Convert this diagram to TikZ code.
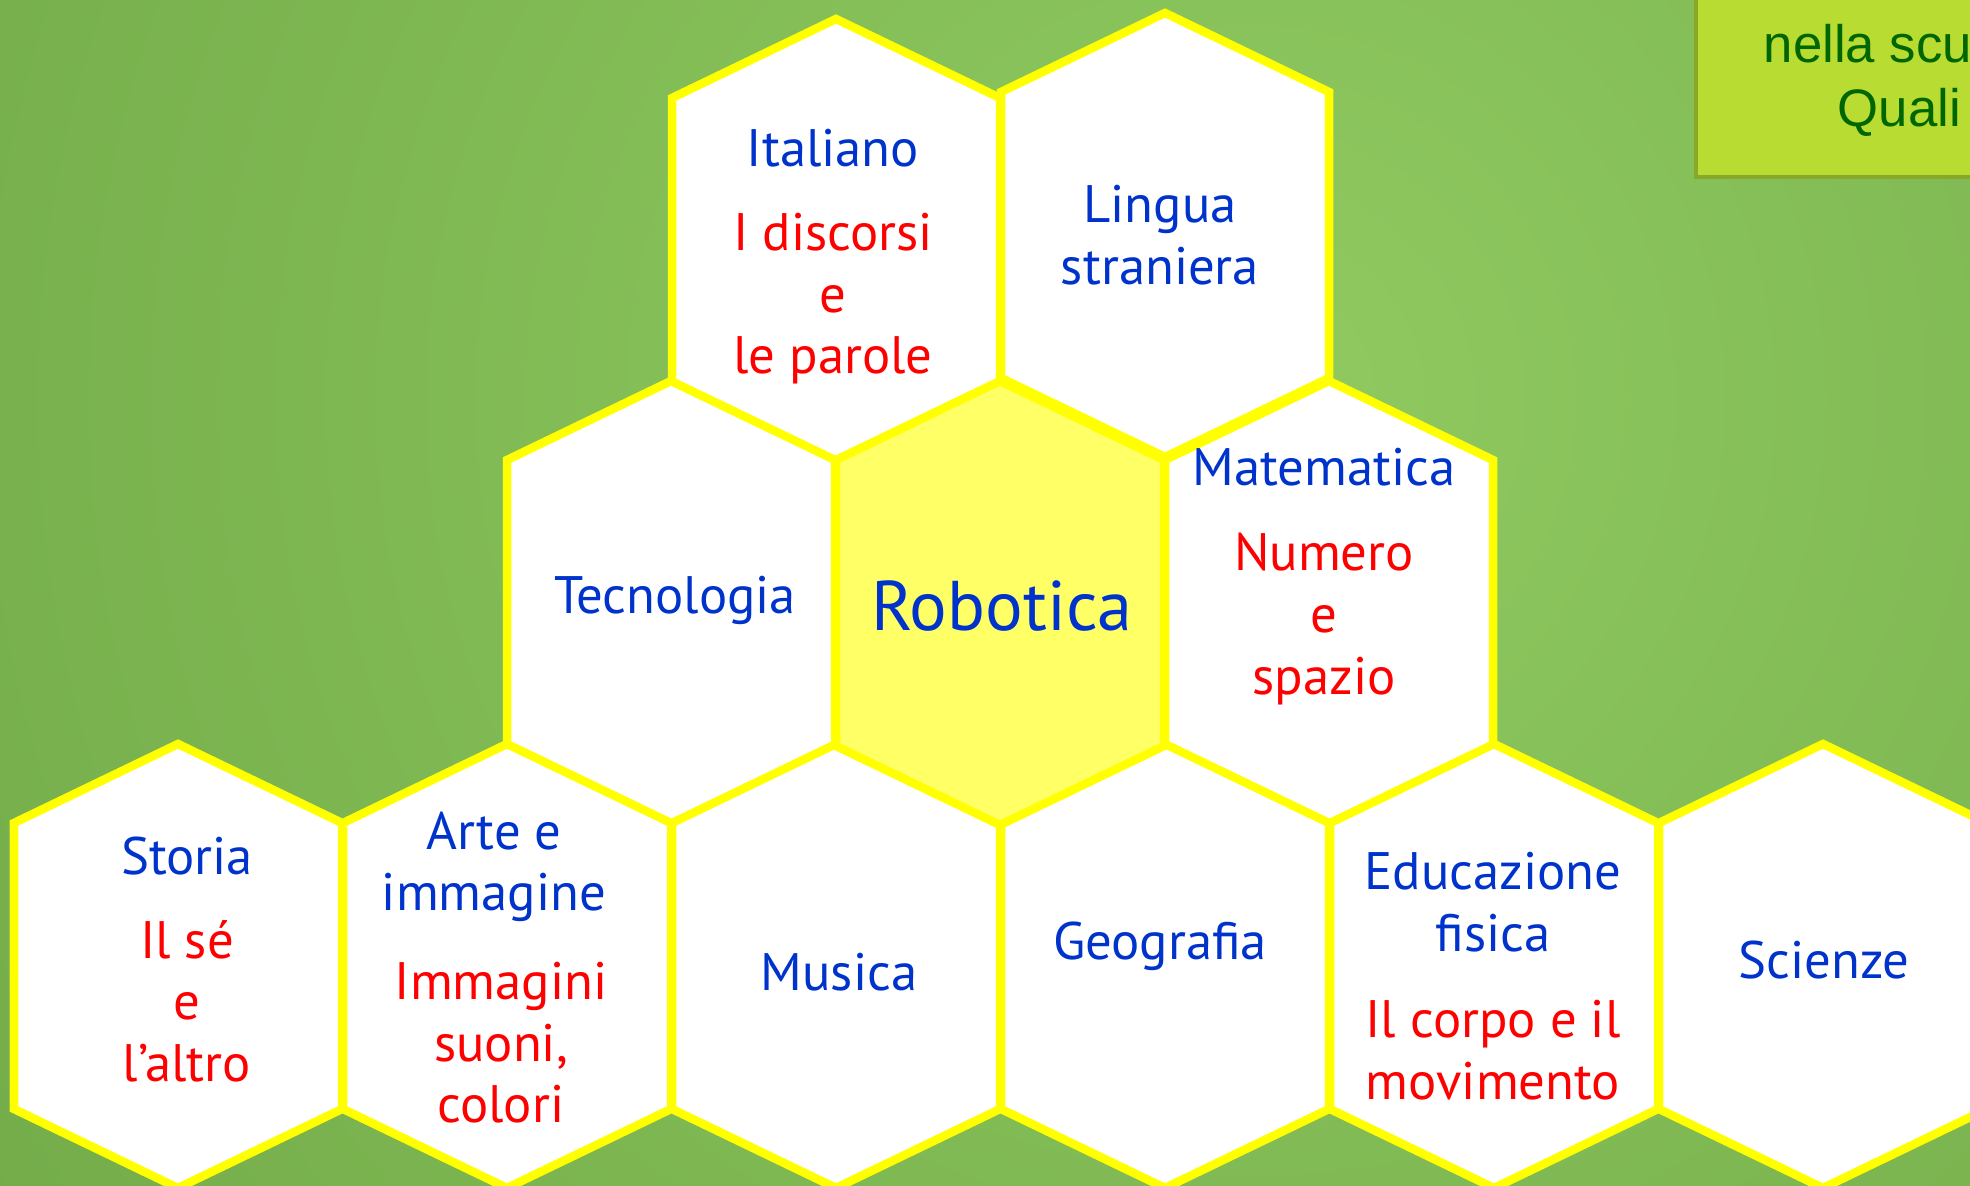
\documentclass[tikz,border=0pt]{standalone}
\usepackage{fontspec}
\setmainfont{PT Sans}
\newfontfamily\boxfont{Liberation Sans}
\usetikzlibrary{positioning}
\definecolor{hexyellow}{RGB}{255,255,0}
\definecolor{robfill}{RGB}{255,255,102}
\definecolor{subjblue}{RGB}{0,51,204}
\definecolor{fieldred}{RGB}{255,0,0}
\definecolor{bglight}{RGB}{144,202,96}
\definecolor{bgdark}{RGB}{82,138,48}
\definecolor{limebox}{RGB}{184,220,50}
\definecolor{limeedge}{RGB}{138,168,40}
\definecolor{titlegreen}{RGB}{0,102,0}

\tikzset{
  hexcell/.style={draw=hexyellow,line width=0.085cm,line join=miter},
  hexagon/.pic={
    \path[hexcell,fill=#1] (0,-222) -- (164,-143) -- (164,143) -- (0,222)
      -- (-164,143) -- (-164,-143) -- cycle;
  },
  subj/.style={text=subjblue,font=\fontsize{15}{17.5}\selectfont,align=center,inner sep=0pt},
  field/.style={text=fieldred,font=\fontsize{15}{17.5}\selectfont,align=center,inner sep=0pt},
}

\begin{document}
\begin{tikzpicture}[x=0.01cm,y=-0.01cm]
  \useasboundingbox (0,0) rectangle (1970,1186);
  % background
  \begin{scope}
    \clip (0,0) rectangle (1970,1186);
    \shade[inner color=bglight,outer color=bgdark] (-1950,-2800) rectangle (4450,3600);
  \end{scope}

  % box in the corner
  \draw[fill=limebox,draw=limeedge,line width=0.035cm] (1696,-20) rectangle (2010,177);
  \node[anchor=base west,inner sep=0pt,text=titlegreen,font=\boxfont\fontsize{15}{18}\selectfont] (boxA) at (1763,63) {nella scu};
  \node[anchor=base west,inner sep=0pt,text=titlegreen,font=\boxfont\fontsize{15}{18}\selectfont] (boxB) at (1837,127) {Quali};

  % hexagon centres
  \coordinate (ita) at (836,241);
  \coordinate (lin) at (1165,235);
  \coordinate (tec) at (671,603);
  \coordinate (rob) at (1000,603);
  \coordinate (mat) at (1329,603);
  \coordinate (sto) at (178,966);
  \coordinate (art) at (507,966);
  \coordinate (mus) at (836,966);
  \coordinate (geo) at (1165,966);
  \coordinate (edu) at (1494,966);
  \coordinate (sci) at (1823,966);

  \foreach \c in {ita,lin,tec,mat,sto,art,mus,geo,edu,sci}
    \pic at (\c) {hexagon=white};
  \pic at (rob) {hexagon=robfill};

  % texts
  \node[subj] (itaS) at (833,148) {Italiano};
  \node[field] (itaF) at (833,299) {I discorsi\\e\\le parole};
  \node[subj] (linS) at (1160,235) {Lingua\\straniera};
  \node[subj] (tecS) at (675,600) {Tecnologia};
  \node[subj,font=\fontsize{20}{23}\selectfont] (robS) at (1002,606) {Robotica};
  \node[subj] (matS) at (1324,467) {Matematica};
  \node[field] (matF) at (1324,619) {Numero\\e\\spazio};
  \node[subj] (stoS) at (187,856) {Storia};
  \node[field] (stoF) at (187,1001) {Il sé\\e\\l’altro};
  \node[subj] (artS) at (494,867) {Arte e\\immagine};
  \node[field] (artF) at (501,1043) {Immagini\\suoni,\\colori};
  \node[subj] (musS) at (839,972) {Musica};
  \node[subj] (geoS) at (1160,946) {Geografia};
  \node[subj] (eduS) at (1493,902) {Educazione\\fisica};
  \node[field] (eduF) at (1493,1050) {Il corpo e il\\movimento};
  \node[subj] (sciS) at (1824,960) {Scienze};
\end{tikzpicture}
\end{document}
